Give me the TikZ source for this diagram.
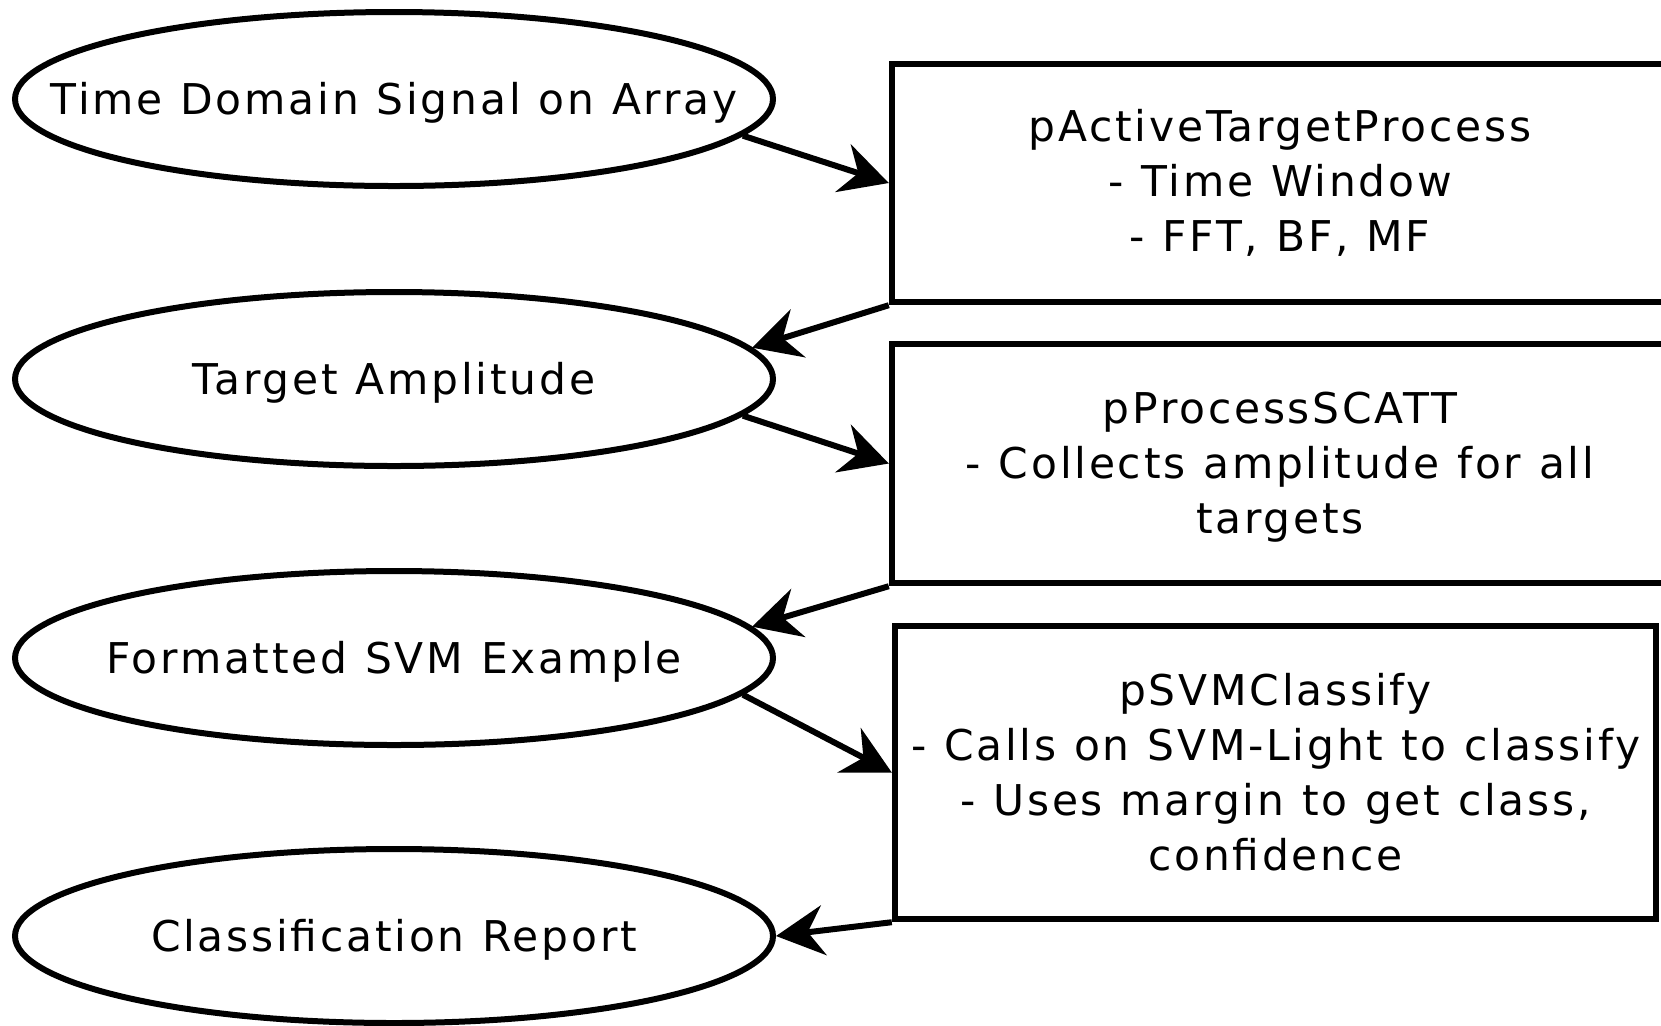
\documentclass[tikz,border=0pt]{standalone}
\usepackage{fontspec}
\setmainfont{DejaVu Sans}[LetterSpace=6.5, WordSpace=1.1]
\usetikzlibrary{arrows.meta,shapes.geometric}

\begin{document}
\begin{tikzpicture}[x=0.5pt,y=-0.5pt,
  every node/.style={font=\fontsize{21.2}{27.5}\selectfont},
  ell/.style={ellipse, draw, line width=3pt, minimum width=379pt,
    minimum height=87pt, inner sep=0pt},
  elltext/.style={yshift=-1.8pt},
  procbox/.style={rectangle, draw, line width=3.2pt, align=center,
    inner sep=0pt},
  flow/.style={line width=3pt,
    -{Stealth[length=24pt,width=25pt,inset=8pt]}}]
\useasboundingbox (0,0) rectangle (1661,1025);

% data items
\node[ell, label={[elltext]center:Time Domain Signal on Array}] (e1) at (394,99) {};
\node[ell, label={[elltext]center:Target Amplitude}] (e2) at (394,379) {};
\node[ell, label={[elltext]center:Formatted SVM Example}] (e3) at (394,658) {};
\node[ell, label={[elltext]center:Classification Report}] (e4) at (394,936) {};

% processes
\node[procbox, minimum width=388pt, minimum height=119pt] (b1) at (1280,183)
  {pActiveTargetProcess\\- Time Window\\- FFT, BF, MF};
\node[procbox, minimum width=388pt, minimum height=119.5pt,
  label={[align=center, yshift=-2pt]center:pProcessSCATT\\- Collects amplitude for all\\targets}]
  (b2) at (1280,463.5) {};
\node[procbox, minimum width=380.5pt, minimum height=146.5pt] (b3) at (1275.5,772.5)
  {pSVMClassify\\- Calls on SVM-Light to classify\\- Uses margin to get class,\\confidence};

% flow
\draw[flow] (e1.-6) -- (b1.west);
\draw[flow] (b1.south west) -- (e2.5);
\draw[flow] (e2.-6) -- (b2.west);
\draw[flow] (b2.south west) -- (e3.5);
\draw[flow] (e3.-6) -- (b3.west);
\draw[flow] (b3.south west) -- (e4.east);
\end{tikzpicture}
\end{document}
